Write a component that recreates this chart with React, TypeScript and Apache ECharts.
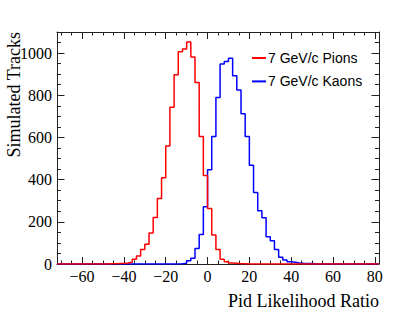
import React, { useEffect, useRef } from "react";
import * as echarts from "echarts";

// Histogram binning (left edge of first bin, bin width)
const binStart = -72;
const binWidth = 2;

// 7 GeV/c Pions counts per bin (bins from -72 to 82, width 2)
const pionCounts = [
  0, 0, 0, 0, 0, 0, 0, 0, 0, 0, 0, 0,
  1, 1, 2, 3, 5, 8, 22, 38, 69, 94, 147, 221, 310, 409,
  560, 743, 897, 1006, 1019, 1053, 982, 861, 605, 420,
  263, 137, 69, 22, 11, 5, 3, 1, 1,
  0, 0, 0, 0, 0, 0, 0, 0, 0, 0, 0, 0, 0, 0, 0, 0,
  0, 0, 0, 0, 0, 0, 0, 0, 0, 0, 0, 0, 0, 0, 0, 0,
];

// 7 GeV/c Kaons counts per bin
const kaonCounts = [
  0, 0, 0, 0, 0, 0, 0, 0, 0, 0, 0, 0, 0, 0, 0, 0, 0, 0, 0, 0,
  0, 0, 0, 0, 0, 0, 0, 0, 0,
  1, 3, 16, 27, 74, 140, 271, 447,
  605, 790, 948, 960, 975, 893, 825, 712, 605,
  468, 339, 252, 219, 129, 110, 69, 32, 19, 11, 8, 5, 3, 2, 2, 1,
  0, 0, 0, 0, 0, 0, 0, 0, 0, 0, 0, 0, 0, 0, 0,
];

const seriesNames = ["7 GeV/c Pions", "7 GeV/c Kaons"];

// Axis ranges and ticks
const xMin = -72;
const xMax = 82;
const yMin = 0;
const yMax = 1100;
const xMajorTicks = [-60, -40, -20, 0, 20, 40, 60, 80];
const xMinorTicks = [
  -70, -65, -60, -55, -50, -45, -40, -35, -30, -25, -20, -15, -10, -5, 0,
  5, 10, 15, 20, 25, 30, 35, 40, 45, 50, 55, 60, 65, 70, 75, 80,
];
const yMajorTicks = [0, 200, 400, 600, 800, 1000];
const yMinorTicks = [
  50, 100, 150, 250, 300, 350, 450, 500, 550, 650, 700, 750, 850, 900, 950,
  1050,
];

const xTitle = "Pid Likelihood Ratio";
const yTitle = "Simulated Tracks";

function stepData(counts: number[]) {
  const pts: number[][] = counts.map((c, i) => [binStart + i * binWidth, c]);
  pts.push([binStart + counts.length * binWidth, counts[counts.length - 1]]);
  return pts;
}

const axisColor = "#222";
const serif = "Liberation Serif";

function fmt(v: number) {
  return v < 0 ? "\u2212" + String(-v) : String(v);
}

function xAxis(position: string, ticks: number[], len: number, showLine: boolean, labels: boolean) {
  return {
    type: "value",
    gridIndex: 0,
    position,
    min: xMin,
    max: xMax,
    axisLine: { show: showLine, onZero: false, lineStyle: { color: axisColor, width: 1 } },
    axisTick: { show: true, inside: true, length: len, customValues: ticks, lineStyle: { color: axisColor, width: 1 } },
    axisLabel: labels
      ? { show: true, customValues: xMajorTicks, formatter: fmt, margin: 4, fontFamily: serif, fontSize: 16, color: "#000" }
      : { show: false },
    splitLine: { show: false },
  };
}

function yAxis(position: string, ticks: number[], len: number, showLine: boolean, labels: boolean) {
  return {
    type: "value",
    gridIndex: 0,
    position,
    min: yMin,
    max: yMax,
    axisLine: { show: showLine, onZero: false, lineStyle: { color: axisColor, width: 1 } },
    axisTick: { show: true, inside: true, length: len, customValues: ticks, lineStyle: { color: axisColor, width: 1 } },
    axisLabel: labels
      ? { show: true, customValues: yMajorTicks, formatter: fmt, margin: 5, fontFamily: serif, fontSize: 16, color: "#000" }
      : { show: false },
    splitLine: { show: false },
  };
}

export default function App() {
  const ref = useRef<HTMLDivElement>(null);

  useEffect(() => {
    if (!ref.current) return;
    const chart = echarts.init(ref.current, undefined, { renderer: "svg" });
    chart.setOption({
      animation: false,
      backgroundColor: "#fff",
      grid: { left: 57, right: 20, top: 32, bottom: 51, containLabel: false },
      legend: {
        data: seriesNames,
        orient: "vertical",
        left: 252,
        top: 51,
        itemWidth: 14,
        itemHeight: 2,
        itemGap: 9.4,
        icon: "rect",
        padding: 0,
        textStyle: { fontFamily: "Liberation Sans", fontSize: 14, color: "#000", padding: [0, 0, 0, -3] },
      },
      xAxis: [
        xAxis("bottom", xMajorTicks, 7, true, true),
        xAxis("bottom", xMinorTicks, 3.5, false, false),
        xAxis("top", xMajorTicks, 7, true, false),
        xAxis("top", xMinorTicks, 3.5, false, false),
      ],
      yAxis: [
        yAxis("left", yMajorTicks, 7.5, true, true),
        yAxis("left", yMinorTicks, 4, false, false),
        yAxis("right", yMajorTicks, 7.5, true, false),
        yAxis("right", yMinorTicks, 4, false, false),
      ],
      series: [
        {
          name: seriesNames[1],
          type: "line",
          step: "end",
          symbol: "none",
          xAxisIndex: 0,
          yAxisIndex: 0,
          data: stepData(kaonCounts),
          lineStyle: { color: "#0000ff", width: 1.5 },
          itemStyle: { color: "#0000ff" },
          z: 2,
        },
        {
          name: seriesNames[0],
          type: "line",
          step: "end",
          symbol: "none",
          xAxisIndex: 0,
          yAxisIndex: 0,
          data: stepData(pionCounts),
          lineStyle: { color: "#ff0000", width: 1.5 },
          itemStyle: { color: "#ff0000" },
          z: 3,
        },
      ],
      graphic: [
        {
          type: "text",
          x: 379,
          y: 301,
          style: {
            text: xTitle,
            fontFamily: serif,
            fontSize: 18,
            fill: "#000",
            textAlign: "right",
            textVerticalAlign: "middle",
          },
        },
        {
          type: "text",
          x: 14,
          y: 32,
          rotation: Math.PI / 2,
          style: {
            text: yTitle,
            fontFamily: serif,
            fontSize: 18,
            fill: "#000",
            textAlign: "right",
            textVerticalAlign: "middle",
          },
        },
      ],
    });
    return () => chart.dispose();
  }, []);

  return (
    <div
      ref={ref}
      style={{ position: "absolute", left: 0, top: 0, width: 399, height: 315 }}
    />
  );
}
